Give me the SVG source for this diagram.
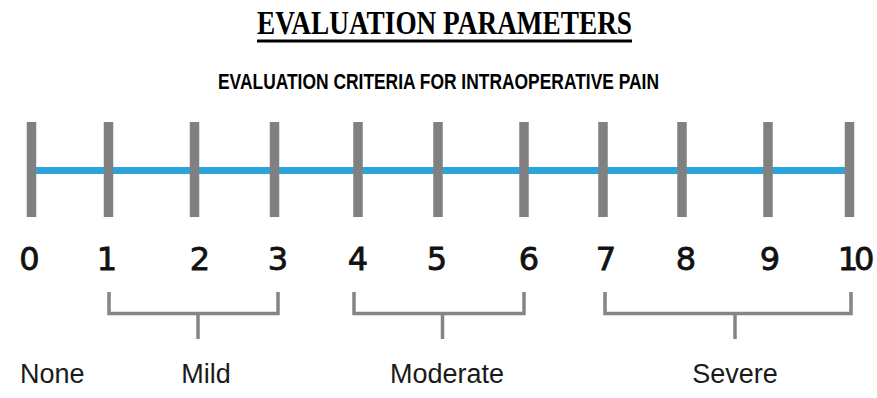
<svg xmlns="http://www.w3.org/2000/svg" width="877" height="398" viewBox="0 0 877 398">
<style>
.tick{stroke:#808080;stroke-width:9.5;}
.axis{stroke:#2ba4dc;stroke-width:7;}
.br{fill:none;stroke:#858585;stroke-width:3.5;}
.num{font-family:"DejaVu Sans",sans-serif;font-size:32px;fill:#111;stroke:#111;stroke-width:0.8px;text-anchor:middle;}
.lab{font-family:"Liberation Sans",Arial,sans-serif;font-size:27px;fill:#1a1a1a;}
</style>
<rect width="877" height="398" fill="#fff"/>
<g id="title">
<text x="257" y="34" font-family="Liberation Serif,serif" font-weight="bold" font-size="33" textLength="375" lengthAdjust="spacingAndGlyphs" fill="#000">EVALUATION PARAMETERS</text>
<rect x="257" y="39.5" width="375" height="3" fill="#000"/>
</g>
<g id="subtitle">
<text x="218" y="89" font-family="Liberation Sans,sans-serif" font-weight="bold" font-size="22" textLength="441" lengthAdjust="spacingAndGlyphs" fill="#000">EVALUATION CRITERIA FOR INTRAOPERATIVE PAIN</text>
</g>
<g id="scale">
<line class="axis" x1="31" y1="170.5" x2="853" y2="170.5"/>
<line class="tick" x1="31.5" y1="122" x2="31.5" y2="217"/>
<line class="tick" x1="108.5" y1="122" x2="108.5" y2="217"/>
<line class="tick" x1="194.5" y1="122" x2="194.5" y2="217"/>
<line class="tick" x1="274.5" y1="122" x2="274.5" y2="217"/>
<line class="tick" x1="358" y1="122" x2="358" y2="217"/>
<line class="tick" x1="438" y1="122" x2="438" y2="217"/>
<line class="tick" x1="524" y1="122" x2="524" y2="217"/>
<line class="tick" x1="603" y1="122" x2="603" y2="217"/>
<line class="tick" x1="682" y1="122" x2="682" y2="217"/>
<line class="tick" x1="768" y1="122" x2="768" y2="217"/>
<line class="tick" x1="849.5" y1="122" x2="849.5" y2="217"/>
</g>
<g id="numbers">
<text class="num" x="29.5" y="270">0</text>
<text class="num" x="107" y="270">1</text>
<text class="num" x="200" y="270">2</text>
<text class="num" x="278" y="270">3</text>
<text class="num" x="358" y="270">4</text>
<text class="num" x="437" y="270">5</text>
<text class="num" x="529" y="270">6</text>
<text class="num" x="606" y="270">7</text>
<text class="num" x="686" y="270">8</text>
<text class="num" x="770" y="270">9</text>
<text class="num" x="854" y="270" letter-spacing="-4">10</text>
</g>
<g id="connectors">
<path class="br" d="M109 292 V313.5 H278 V292 M198 313.5 V339"/>
<path class="br" d="M354 292 V313.5 H524 V292 M442.5 313.5 V339"/>
<path class="br" d="M605 292 V313.5 H851 V292 M735 313.5 V339"/>
</g>
<g id="none"><text class="lab" x="20" y="383">None</text></g>
<g id="mild"><text class="lab" x="206" y="383" text-anchor="middle">Mild</text></g>
<g id="moderate"><text class="lab" x="447" y="383" text-anchor="middle">Moderate</text></g>
<g id="severe"><text class="lab" x="735" y="383" text-anchor="middle">Severe</text></g>
</svg>
